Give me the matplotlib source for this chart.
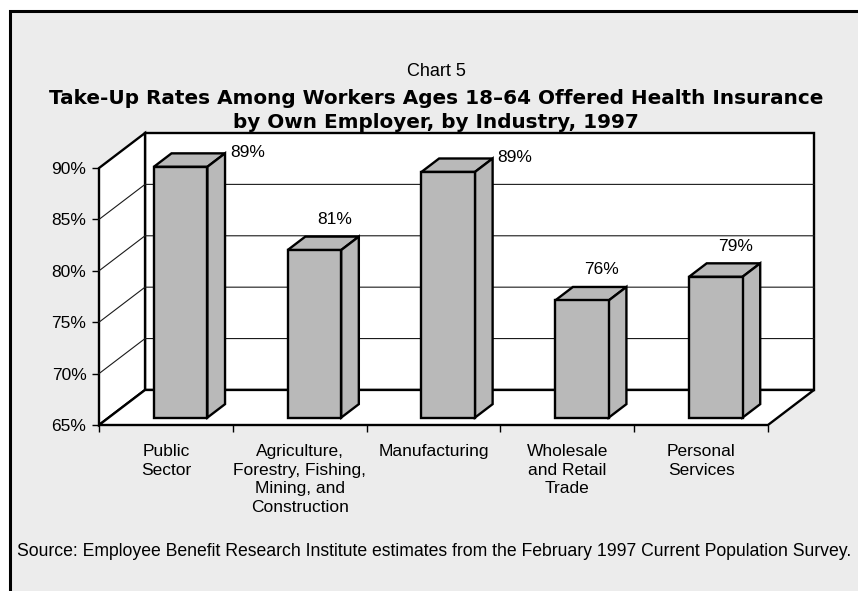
import matplotlib
matplotlib.use("Agg")
import matplotlib.pyplot as plt
from matplotlib.patches import Polygon, Rectangle
import numpy as np

# ---- data -----------------------------------------------------------------
categories = [
    "Public\nSector",
    "Agriculture,\nForestry, Fishing,\nMining, and\nConstruction",
    "Manufacturing",
    "Wholesale\nand Retail\nTrade",
    "Personal\nServices",
]
take_up = [89.4, 81.3, 88.9, 76.4, 78.7]
y_ticks = [65, 70, 75, 80, 85, 90]
y_tick_labels = ["65%", "70%", "75%", "80%", "85%", "90%"]

chart_no = "Chart 5"
title_lines = [
    "Take-Up Rates Among Workers Ages 18\u201364 Offered Health Insurance",
    "by Own Employer, by Industry, 1997",
]
source = ("Source: Employee Benefit Research Institute estimates from the "
          "February 1997 Current Population Survey.")

# ---- styling --------------------------------------------------------------
plt.rcParams["font.family"] = ["Liberation Sans", "DejaVu Sans"]
W, H, DPI = 858, 591, 100
BG = "#ececec"
BAR = "#b9b9b9"
EDGE_LW = 1.7
GRID_LW = 0.8
FS = 12.5

fig = plt.figure(figsize=(W / DPI, H / DPI), dpi=DPI, facecolor="white")

# framed panel behind everything
fig.patches.append(Rectangle((10 / W, -0.2), 1.3, 1.2 - 11 / H,
                             transform=fig.transFigure, facecolor=BG,
                             edgecolor="black", linewidth=2.2, zorder=-10))

# front plane of the plot box; depth is drawn as an oblique offset
ax = fig.add_axes([99 / W, (H - 425) / H, 715 / W, 292 / H])
n = len(categories)
lo, hi = y_ticks[0], y_ticks[-1]
DX, DY = 0.344, 3.41          # depth offset of the back wall (data units)
ax.set_xlim(0, n + DX)
ax.set_ylim(lo, hi + DY)
ax.patch.set_visible(False)
for s in ax.spines.values():
    s.set_visible(False)

wall_kw = dict(facecolor="white", edgecolor="black", linewidth=EDGE_LW,
               joinstyle="miter", zorder=1, clip_on=False)
ax.add_patch(Polygon([(DX, lo + DY), (n + DX, lo + DY), (n + DX, hi + DY),
                      (DX, hi + DY)], **wall_kw))
ax.add_patch(Polygon([(0, lo), (DX, lo + DY), (DX, hi + DY), (0, hi)],
                     **wall_kw))
ax.add_patch(Polygon([(0, lo), (n, lo), (n + DX, lo + DY), (DX, lo + DY)],
                     **wall_kw))

# gridlines on side and back walls
for t in y_ticks[1:-1]:
    ax.plot([0, DX, n + DX], [t, t + DY, t + DY], color="#1a1a1a",
            linewidth=GRID_LW, zorder=2, clip_on=False)

# bars: front faces via ax.bar, plus top and side faces
BW = 0.40                    # bar width
OX, OY = 0.11, 0.72          # offset of bar front face into the box
BDX, BDY = 0.132, 1.31       # bar depth
centers = np.arange(n) + 0.5
vals = np.array(take_up)
ax.bar(centers + OX, vals - lo, bottom=lo + OY, width=BW, color=BAR,
       edgecolor="black", linewidth=EDGE_LW, zorder=4, clip_on=False)
face_kw = dict(facecolor=BAR, edgecolor="black", linewidth=EDGE_LW,
               joinstyle="miter", zorder=3, clip_on=False)
for c, v in zip(centers, vals):
    x0 = c + OX - BW / 2
    x1 = x0 + BW
    yb, yt = lo + OY, v + OY
    ax.add_patch(Polygon([(x0, yt), (x1, yt), (x1 + BDX, yt + BDY),
                          (x0 + BDX, yt + BDY)], **face_kw))
    ax.add_patch(Polygon([(x1, yb), (x1 + BDX, yb + BDY),
                          (x1 + BDX, yt + BDY), (x1, yt)], **face_kw))

# value labels: above the bar, or beside it when there is no headroom
fig.canvas.draw()
top_px = ax.transAxes.transform((0, 1))[1]
for c, v in zip(centers, vals):
    x0 = c + OX - BW / 2
    yt = v + OY
    mid = (x0 + BW / 2 + BDX / 2, yt + BDY / 2)
    label_top = ax.transData.transform(mid)[1] + (17.3 + 7.0) * DPI / 72
    if label_top > top_px:
        ax.annotate(f"{v:.0f}%", xy=(x0 + BW + BDX, yt + BDY),
                    xytext=(3.6, 0.5), textcoords="offset points",
                    ha="left", va="center", fontsize=FS, zorder=6)
    else:
        ax.annotate(f"{v:.0f}%", xy=mid, xytext=(8, 17.3),
                    textcoords="offset points", ha="center", va="center",
                    fontsize=FS, zorder=6)

# axis ticks and labels
ax.set_yticks(y_ticks, y_tick_labels)
ax.tick_params(axis="y", direction="out", length=5, width=1.0, pad=4,
               labelsize=FS, color="black")
ax.set_xticks(np.arange(n + 1), [""] * (n + 1))
ax.set_xticks(centers, categories, minor=True)
ax.tick_params(axis="x", which="major", direction="out", length=5, width=1.0)
ax.tick_params(axis="x", which="minor", length=0, pad=14, labelsize=FS)
for lbl in ax.get_xticklabels(minor=True):
    lbl.set_linespacing(1.28)

# titles and source
fig.text(436 / W, 1 - 72 / H, chart_no, ha="center", va="center", fontsize=13)
for i, line in enumerate(title_lines):
    fig.text(436 / W, 1 - (99 + 23 * i) / H, line, ha="center", va="center",
             fontsize=14.4, fontweight="bold", family="DejaVu Sans")
fig.text(17 / W, 1 - 551 / H, source, ha="left", va="center", fontsize=12.7)

fig.savefig("out.png", dpi=DPI, facecolor=fig.get_facecolor())
